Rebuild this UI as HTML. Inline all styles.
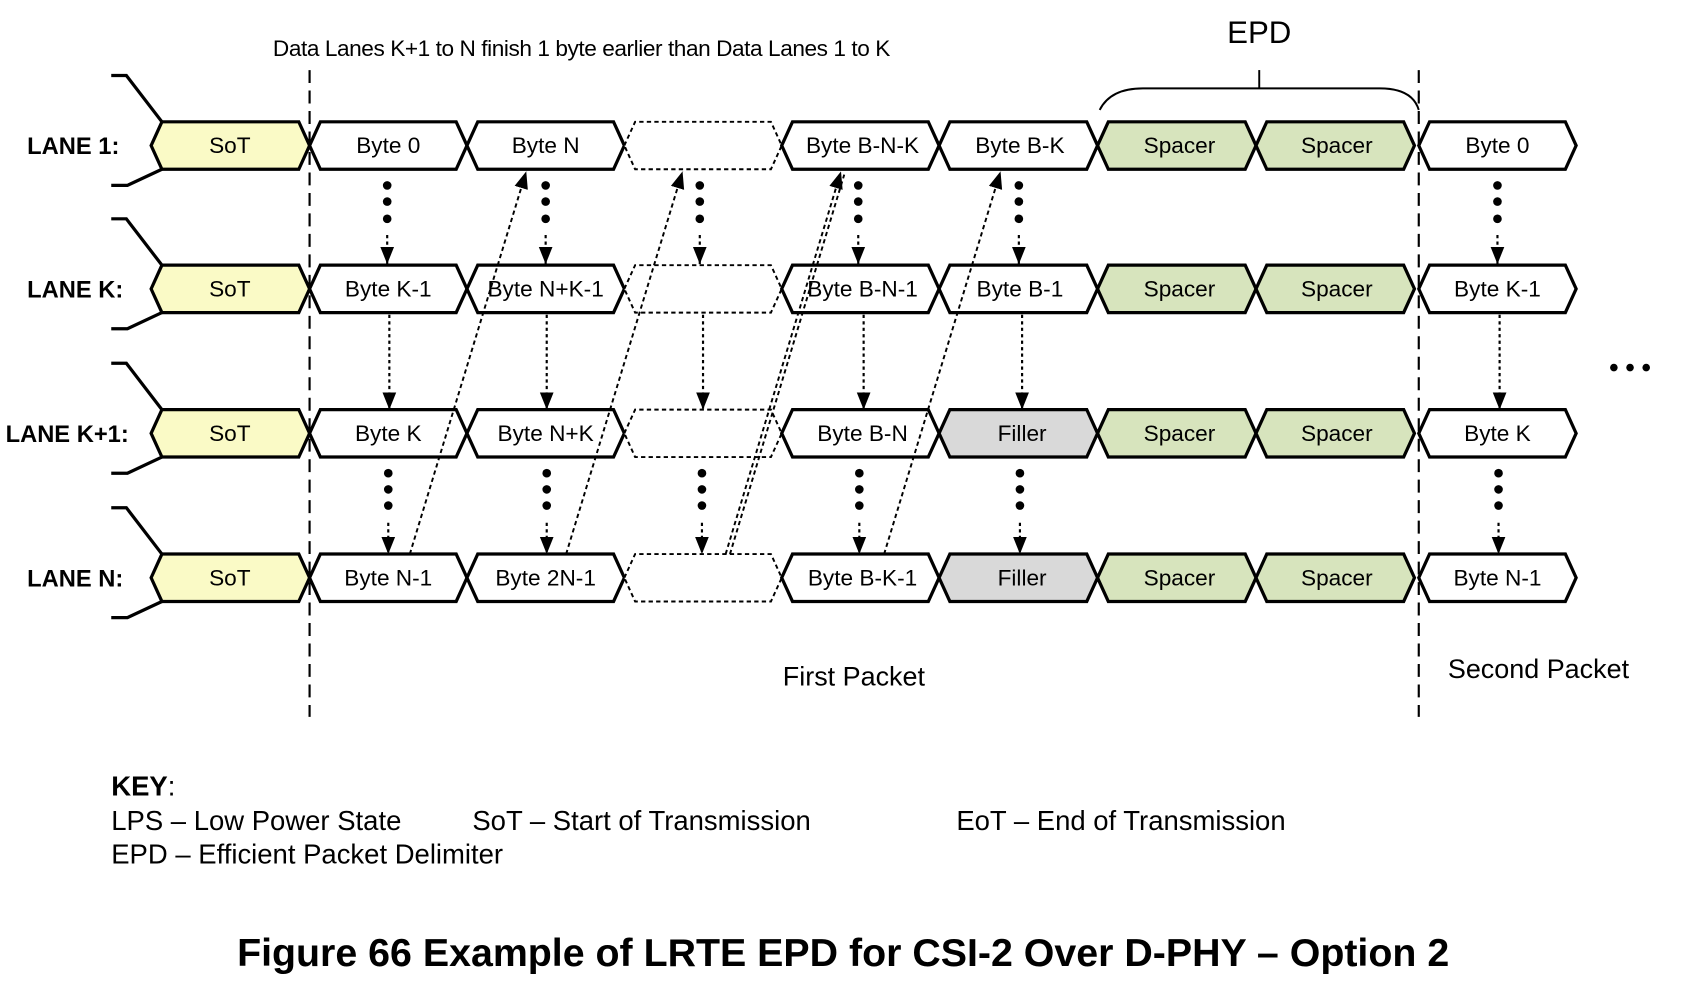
<!DOCTYPE html>
<html><head><meta charset="utf-8"><style>
html,body{margin:0;padding:0;background:#fff;}
svg{display:block;}
text{font-family:"Liberation Sans",Arial,sans-serif;fill:#000;}
.c{font-size:21px;text-anchor:middle;}
.l{font-size:22px;font-weight:bold;}
.h{stroke:#000;stroke-width:3;stroke-linejoin:miter;}
.d{stroke:#000;stroke-width:1.8;stroke-dasharray:4 3;fill:none;}
.dl{stroke:#000;stroke-width:2;stroke-dasharray:3 3;fill:none;}
</style></head><body>
<svg width="1682" height="996" viewBox="0 0 1560 924" xmlns="http://www.w3.org/2000/svg">
<defs>
<marker id="b" viewBox="0 0 10 10" refX="10" refY="5" markerWidth="16" markerHeight="16" orient="auto" markerUnits="userSpaceOnUse"><path d="M0,1 L10,5 L0,9 z" fill="#000"/></marker>
<g id="row">
<polyline points="103,-65 117,-65 150,-22" fill="none" stroke="#000" stroke-width="3"/>
<polyline points="150,22 118,37 103,37" fill="none" stroke="#000" stroke-width="3"/>
<polygon class="h" fill="#fafac6" points="140,0 150,-22 277,-22 287,0 277,22 150,22"/>
<polygon class="h" fill="#fff" points="287,0 297,-22 423,-22 433,0 423,22 297,22"/>
<polygon class="h" fill="#fff" points="433,0 443,-22 569,-22 579,0 569,22 443,22"/>
<polygon fill="#fff" stroke="#000" stroke-width="1.8" stroke-dasharray="4 3" points="579,0 589,-22 715,-22 725,0 715,22 589,22"/>
<polygon class="h" fill="#fff" points="725,0 735,-22 861,-22 871,0 861,22 735,22"/>
<polygon class="h" fill="#d7e4bd" points="1018,0 1028,-22 1155,-22 1165,0 1155,22 1028,22"/>
<polygon class="h" fill="#d7e4bd" points="1165,0 1175,-22 1302,-22 1312,0 1302,22 1175,22"/>
<polygon class="h" fill="#fff" points="1316,0 1326,-22 1452,-22 1462,0 1452,22 1326,22"/>
</g>
<polygon id="w" class="h" fill="#fff" points="871,0 881,-22 1008,-22 1018,0 1008,22 881,22"/>
<polygon id="f" class="h" fill="#d9d9d9" points="871,0 881,-22 1008,-22 1018,0 1008,22 881,22"/>
</defs>

<use href="#row" y="135"/><use href="#w" y="135"/>
<use href="#row" y="268"/><use href="#w" y="268"/>
<use href="#row" y="402"/><use href="#f" y="402"/>
<use href="#row" y="536"/><use href="#f" y="536"/>

<line x1="287" y1="65" x2="287" y2="665" stroke="#000" stroke-width="2" stroke-dasharray="12 7"/>
<line x1="1316" y1="65" x2="1316" y2="665" stroke="#000" stroke-width="2" stroke-dasharray="12 7"/>

<path d="M1020,102 Q1030,82 1060,82 L1280,82 Q1310,82 1316,102" fill="none" stroke="#000" stroke-width="1.8"/>
<line x1="1168" y1="65" x2="1168" y2="82" stroke="#000" stroke-width="1.8"/>
<text x="1168" y="40" style="font-size:29px;text-anchor:middle">EPD</text>
<text x="253" y="52" style="font-size:21px;letter-spacing:-0.4px">Data Lanes K+1 to N finish 1 byte earlier than Data Lanes 1 to K</text>

<text class="l" x="25" y="143">LANE 1:</text>
<text class="l" x="25" y="276">LANE K:</text>
<text class="l" x="5" y="410">LANE K+1:</text>
<text class="l" x="25" y="544">LANE N:</text>

<g>
<text class="c" x="213" y="142">SoT</text><text class="c" x="360" y="142">Byte 0</text><text class="c" x="506" y="142">Byte N</text><text class="c" x="800" y="142">Byte B-N-K</text><text class="c" x="946" y="142">Byte B-K</text><text class="c" x="1094" y="142">Spacer</text><text class="c" x="1240" y="142">Spacer</text><text class="c" x="1389" y="142">Byte 0</text>
<text class="c" x="213" y="275">SoT</text><text class="c" x="360" y="275">Byte K-1</text><text class="c" x="506" y="275">Byte N+K-1</text><text class="c" x="800" y="275">Byte B-N-1</text><text class="c" x="946" y="275">Byte B-1</text><text class="c" x="1094" y="275">Spacer</text><text class="c" x="1240" y="275">Spacer</text><text class="c" x="1389" y="275">Byte K-1</text>
<text class="c" x="213" y="409">SoT</text><text class="c" x="360" y="409">Byte K</text><text class="c" x="506" y="409">Byte N+K</text><text class="c" x="800" y="409">Byte B-N</text><text class="c" x="948" y="409">Filler</text><text class="c" x="1094" y="409">Spacer</text><text class="c" x="1240" y="409">Spacer</text><text class="c" x="1389" y="409">Byte K</text>
<text class="c" x="213" y="543">SoT</text><text class="c" x="360" y="543">Byte N-1</text><text class="c" x="506" y="543">Byte 2N-1</text><text class="c" x="800" y="543">Byte B-K-1</text><text class="c" x="948" y="543">Filler</text><text class="c" x="1094" y="543">Spacer</text><text class="c" x="1240" y="543">Spacer</text><text class="c" x="1389" y="543">Byte N-1</text>
</g>

<g fill="#000">
<circle cx="359" cy="172" r="4"/><circle cx="359" cy="187" r="4"/><circle cx="359" cy="203" r="4"/>
<circle cx="506" cy="172" r="4"/><circle cx="506" cy="187" r="4"/><circle cx="506" cy="203" r="4"/>
<circle cx="649" cy="172" r="4"/><circle cx="649" cy="187" r="4"/><circle cx="649" cy="203" r="4"/>
<circle cx="796" cy="172" r="4"/><circle cx="796" cy="187" r="4"/><circle cx="796" cy="203" r="4"/>
<circle cx="945" cy="172" r="4"/><circle cx="945" cy="187" r="4"/><circle cx="945" cy="203" r="4"/>
<circle cx="1389" cy="172" r="4"/><circle cx="1389" cy="187" r="4"/><circle cx="1389" cy="203" r="4"/>
<circle cx="360" cy="439" r="4"/><circle cx="360" cy="454" r="4"/><circle cx="360" cy="469" r="4"/>
<circle cx="507" cy="439" r="4"/><circle cx="507" cy="454" r="4"/><circle cx="507" cy="469" r="4"/>
<circle cx="651" cy="439" r="4"/><circle cx="651" cy="454" r="4"/><circle cx="651" cy="469" r="4"/>
<circle cx="797" cy="439" r="4"/><circle cx="797" cy="454" r="4"/><circle cx="797" cy="469" r="4"/>
<circle cx="946" cy="439" r="4"/><circle cx="946" cy="454" r="4"/><circle cx="946" cy="469" r="4"/>
<circle cx="1390" cy="439" r="4"/><circle cx="1390" cy="454" r="4"/><circle cx="1390" cy="469" r="4"/>
</g>
<g class="dl">
<line x1="359" y1="218" x2="359" y2="245" marker-end="url(#b)"/>
<line x1="506" y1="218" x2="506" y2="245" marker-end="url(#b)"/>
<line x1="649" y1="218" x2="649" y2="245" marker-end="url(#b)"/>
<line x1="796" y1="218" x2="796" y2="245" marker-end="url(#b)"/>
<line x1="945" y1="218" x2="945" y2="245" marker-end="url(#b)"/>
<line x1="1389" y1="218" x2="1389" y2="245" marker-end="url(#b)"/>
<line x1="361" y1="292" x2="361" y2="380" marker-end="url(#b)"/>
<line x1="507" y1="292" x2="507" y2="380" marker-end="url(#b)"/>
<line x1="652" y1="292" x2="652" y2="380" marker-end="url(#b)"/>
<line x1="801" y1="292" x2="801" y2="380" marker-end="url(#b)"/>
<line x1="948" y1="292" x2="948" y2="380" marker-end="url(#b)"/>
<line x1="1391" y1="292" x2="1391" y2="380" marker-end="url(#b)"/>
<line x1="360" y1="485" x2="360" y2="514" marker-end="url(#b)"/>
<line x1="507" y1="485" x2="507" y2="514" marker-end="url(#b)"/>
<line x1="651" y1="485" x2="651" y2="514" marker-end="url(#b)"/>
<line x1="797" y1="485" x2="797" y2="514" marker-end="url(#b)"/>
<line x1="946" y1="485" x2="946" y2="514" marker-end="url(#b)"/>
<line x1="1390" y1="485" x2="1390" y2="514" marker-end="url(#b)"/>
</g>
<g class="d">
<line x1="380" y1="514" x2="488" y2="159" marker-end="url(#b)"/>
<line x1="525" y1="514" x2="633" y2="159" marker-end="url(#b)"/>
<line x1="673" y1="514" x2="780" y2="159" marker-end="url(#b)"/>
<line x1="677" y1="514" x2="783" y2="162"/>
<line x1="820" y1="514" x2="928" y2="159" marker-end="url(#b)"/>
</g>

<text x="726" y="636" style="font-size:25px">First Packet</text>
<text x="1343" y="629" style="font-size:25px">Second Packet</text>
<g fill="#000"><circle cx="1497" cy="341" r="3.5"/><circle cx="1512" cy="341" r="3.5"/><circle cx="1527" cy="341" r="3.5"/></g>

<text x="103" y="738" style="font-size:25.5px"><tspan font-weight="bold">KEY</tspan>:</text>
<text x="103" y="770" style="font-size:25.5px">LPS – Low Power State</text>
<text x="438" y="770" style="font-size:25.5px">SoT – Start of Transmission</text>
<text x="887" y="770" style="font-size:25.5px">EoT – End of Transmission</text>
<text x="103" y="801" style="font-size:25.5px">EPD – Efficient Packet Delimiter</text>
<text x="782" y="896" style="font-size:36.5px;font-weight:bold;text-anchor:middle">Figure 66 Example of LRTE EPD for CSI-2 Over D-PHY – Option 2</text>
</svg>
</body></html>
